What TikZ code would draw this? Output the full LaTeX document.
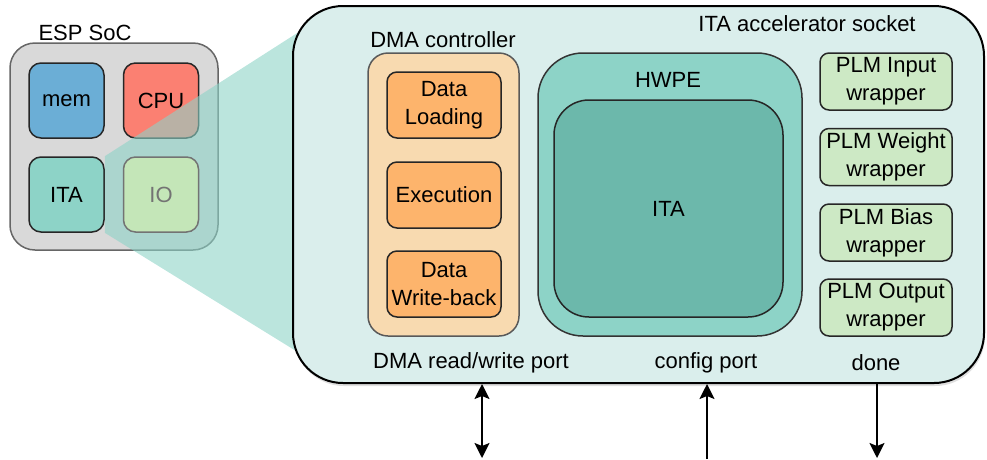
\documentclass[tikz,border=0pt]{standalone}
\usepackage{fontspec}
\setmainfont{Liberation Sans}
\usetikzlibrary{arrows.meta,shadows}
\definecolor{socgray}{HTML}{D9D9D9}
\definecolor{memblue}{HTML}{6BAED6}
\definecolor{cpured}{HTML}{FB8072}
\definecolor{itateal}{HTML}{8DD3C7}
\definecolor{iogreen}{HTML}{C4E6B8}
\definecolor{sockfill}{HTML}{DAEEEC}
\definecolor{dmafill}{HTML}{F8DAB0}
\definecolor{stagefill}{HTML}{FDB46C}
\definecolor{itadark}{HTML}{6CB8AB}
\definecolor{plmfill}{HTML}{CDE9C5}
\tikzset{
  lbl/.style={font=\fontsize{22}{28}\selectfont, inner sep=0pt, align=center},
  rbox/.style={draw=black!85, line width=1.5pt, font=\fontsize{22}{28}\selectfont, align=center, inner sep=0pt},
  port/.style={line width=1.8pt, -{Stealth[length=15pt,width=15pt,inset=3pt]}},
  dport/.style={line width=1.8pt, {Stealth[length=15pt,width=15pt,inset=3pt]}-{Stealth[length=15pt,width=15pt,inset=3pt]}}
}
\begin{document}
\begin{tikzpicture}[x=1pt,y=-1pt]
\useasboundingbox (0,0) rectangle (987,459);
% ESP SoC
\node[lbl] (soclabel) at (85,33) {ESP SoC};
\node[draw=black!60, fill=socgray, line width=1.5pt, rounded corners=25pt, minimum width=208pt, minimum height=207pt] (soc) at (114,146.5) {};
\node[rbox, fill=memblue, rounded corners=12pt, minimum width=75pt, minimum height=75pt] (mem) at (66.5,100.5) {mem};
\node[rbox, fill=cpured, rounded corners=12pt, minimum width=75pt, minimum height=75pt] (cpu) at (161,100.5) {CPU};
\node[rbox, fill=itateal, rounded corners=12pt, minimum width=75pt, minimum height=75pt] (ita) at (66.5,194.5) {ITA};
% zoom wedge
\fill[itateal, opacity=0.6] (ita.north east) -- (330,12) -- (330,372) -- (ita.south east) -- cycle;
\node[rbox, draw=black!55, text=black!55, fill=iogreen, rounded corners=12pt, minimum width=75pt, minimum height=75pt] (io) at (161,194.5) {IO};
% socket
\node[draw=black, fill=sockfill, line width=2pt, rounded corners=50pt, minimum width=691pt, minimum height=377pt,
  drop shadow={shadow xshift=1pt, shadow yshift=-3pt, opacity=0.25}] (socket) at (638.5,194.5) {};
\node[lbl] (socklabel) at (807,24) {ITA accelerator socket};
% DMA controller
\node[lbl] (dmalabel) at (443,40) {DMA controller};
\node[draw=black!65, fill=dmafill, line width=1.5pt, rounded corners=20pt, minimum width=151pt, minimum height=283pt] (dma) at (443.5,194.5) {};
\node[rbox, fill=stagefill, rounded corners=10pt, minimum width=114pt, minimum height=66pt] (load) at (444,105) {Data\\Loading};
\node[rbox, fill=stagefill, rounded corners=10pt, minimum width=114pt, minimum height=66pt] (exec) at (444,195) {Execution};
\node[rbox, fill=stagefill, rounded corners=10pt, minimum width=114pt, minimum height=66pt] (wb) at (444,284) {Data\\Write-back};
% HWPE
\node[draw=black!80, fill=itateal, line width=1.5pt, rounded corners=45pt, minimum width=264pt, minimum height=283pt] (hwpe) at (670,194.5) {};
\node[lbl] (hwpelabel) at (668,80) {HWPE};
\node[rbox, fill=itadark, rounded corners=35pt, minimum width=229pt, minimum height=217pt] (itacore) at (668.5,208.5) {ITA};
% PLMs
\node[rbox, fill=plmfill, rounded corners=9pt, minimum width=132pt, minimum height=57pt] (plmin) at (886,81.5) {PLM Input\\wrapper};
\node[rbox, fill=plmfill, rounded corners=9pt, minimum width=132pt, minimum height=57pt] (plmw) at (886,157) {PLM Weight\\wrapper};
\node[rbox, fill=plmfill, rounded corners=9pt, minimum width=132pt, minimum height=57pt] (plmb) at (886,232.5) {PLM Bias\\wrapper};
\node[rbox, fill=plmfill, rounded corners=9pt, minimum width=132pt, minimum height=57pt] (plmo) at (886,307.5) {PLM Output\\wrapper};
% ports
\node[lbl] (dmaport) at (471,363) {DMA read/write port};
\node[lbl] (cfgport) at (706,363) {config port};
\node[lbl] (doneport) at (876,363) {done};
\coordinate (dmaend) at (482,458);
\coordinate (cfgend) at (707,459);
\coordinate (doneend) at (877,458);
\draw[dport] (dmaend |- socket.south) -- (dmaend);
\draw[port] (cfgend) -- (cfgend |- socket.south);
\draw[port] (doneend |- socket.south) -- (doneend);
\end{tikzpicture}
\end{document}
